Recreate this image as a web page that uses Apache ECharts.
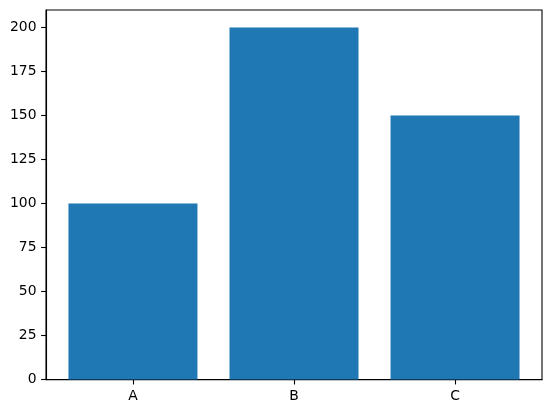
<!DOCTYPE html>
<html>
<head>
<meta charset="utf-8">
<script src="https://cdn.jsdelivr.net/npm/echarts@6/dist/echarts.min.js"></script>
<style>
html,body{margin:0;padding:0;background:#fff;}
#c{width:552px;height:413px;}
</style>
</head>
<body>
<div id="c"></div>
<script>
const categories = ['A', 'B', 'C'];
const values = [100, 200, 150];
const yTicks = [0, 25, 50, 75, 100, 125, 150, 175, 200];

const chart = echarts.init(document.getElementById('c'), null, {renderer: 'canvas'});
const font = {fontFamily: 'DejaVu Sans', fontSize: 13.9, color: '#000'};
chart.setOption({
  animation: false,
  grid: {left: 46, right: 10, top: 10, bottom: 33.4, show: true, borderColor: '#000', borderWidth: 1.1, backgroundColor: 'transparent'},
  xAxis: {
    type: 'value',
    min: -0.54,
    max: categories.length - 1 + 0.54,
    splitLine: {show: false},
    axisLine: {show: true, onZero: false, lineStyle: {color: '#000', width: 1.1}},
    axisTick: {show: true, length: 4.9, lineStyle: {color: '#000', width: 1.1}, customValues: categories.map((c, i) => i)},
    axisLabel: Object.assign({margin: 9.5, customValues: categories.map((c, i) => i), formatter: v => categories[Math.round(v)] || ''}, font)
  },
  yAxis: {
    type: 'value',
    min: 0,
    max: 210,
    splitLine: {show: false},
    axisLine: {show: true, onZero: false, lineStyle: {color: '#000', width: 1.1}},
    axisTick: {show: true, length: 4.9, lineStyle: {color: '#000', width: 1.1}, customValues: yTicks},
    axisLabel: Object.assign({margin: 9.5, customValues: yTicks}, font)
  },
  series: [{
    type: 'bar',
    barWidth: 129,
    itemStyle: {color: '#1f77b4', borderWidth: 0},
    data: values.map((v, i) => [i, v])
  }]
});
</script>
</body>
</html>
